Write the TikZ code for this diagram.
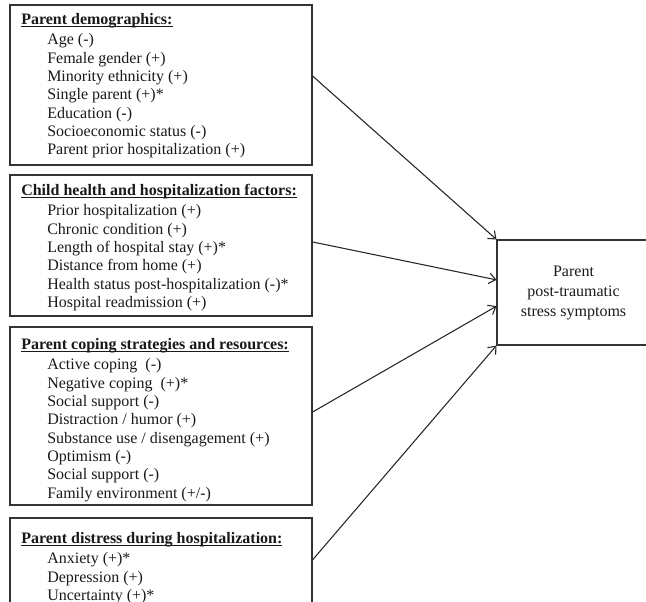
\documentclass[tikz,border=0pt]{standalone}
\usepackage{fontspec}
\setmainfont{Liberation Serif}
\usetikzlibrary{fit,calc,arrows.meta}
\newcommand{\ind}{\hspace*{19.5pt}}
\newsavebox{\hdbox}
\newcommand{\hd}[1]{\sbox{\hdbox}{\textbf{#1}}\rlap{\rule[-2.0pt]{\wd\hdbox}{0.9pt}}\usebox{\hdbox}}
\begin{document}
\begin{tikzpicture}[x=0.75pt,y=-0.75pt,
  box/.style={draw=black!80,line width=0.8pt,inner sep=0pt},
  txt/.style={anchor=north west,inner sep=0pt,align=left,font=\fontsize{12}{13.75}\selectfont,text=black!90},
  conn/.style={draw=black!85,line width=0.8pt,-{Straight Barb[length=5pt,width=8pt]}}]
\useasboundingbox (0,0) rectangle (646,602);
% left boxes
\node[box,fit={(10,5) (312,165)}] (b1) {};
\node[box,fit={(10,175) (312,316)}] (b2) {};
\node[box,fit={(10,327) (312,505)}] (b3) {};
\node[box,fit={(10,518) (312,615)}] (b4) {};
% outcome box
\node[box,fit={(497,240) (650,345)}] (out) {};
% texts
\node[txt] (t1) at (21,13) {\hd{Parent demographics:}\\[1.5pt]
\ind Age (-)\\
\ind Female gender (+)\\
\ind Minority ethnicity (+)\\
\ind Single parent (+)*\\
\ind Education (-)\\
\ind Socioeconomic status (-)\\
\ind Parent prior hospitalization (+)};
\node[txt] (t2) at (21,184) {\hd{Child health and hospitalization factors:}\\[1.5pt]
\ind Prior hospitalization (+)\\
\ind Chronic condition (+)\\
\ind Length of hospital stay (+)*\\
\ind Distance from home (+)\\
\ind Health status post-hospitalization (-)*\\
\ind Hospital readmission (+)};
\node[txt] (t3) at (21,338) {\hd{Parent coping strategies and resources:}\\[1.5pt]
\ind Active coping~~(-)\\
\ind Negative coping~~(+)*\\
\ind Social support (-)\\
\ind Distraction / humor (+)\\
\ind Substance use / disengagement (+)\\
\ind Optimism (-)\\
\ind Social support (-)\\
\ind Family environment (+/-)};
\node[txt] (t4) at (21,532) {\hd{Parent distress during hospitalization:}\\[1.5pt]
\ind Anxiety (+)*\\
\ind Depression (+)\\
\ind Uncertainty (+)*};
\node[align=center,inner sep=0pt,font=\fontsize{12}{15}\selectfont,text=black!90] (to) at (out.center) {Parent\\post-traumatic\\stress symptoms};
% connectors
\coordinate (s1) at ($(b1.north east)!0.444!(b1.south east)$);
\coordinate (s2) at ($(b2.north east)!0.475!(b2.south east)$);
\coordinate (s3) at ($(b3.north east)!0.478!(b3.south east)$);
\coordinate (s4) at ($(b4.north east)!0.433!(b4.south east)$);
\coordinate (e2) at ($(out.north west)!0.381!(out.south west)$);
\coordinate (e3) at ($(out.north west)!0.629!(out.south west)$);
\draw[conn] (s1) -- (out.north west);
\draw[conn] (s2) -- (e2);
\draw[conn] (s3) -- (e3);
\draw[conn] (s4) -- (out.south west);
\end{tikzpicture}
\end{document}
